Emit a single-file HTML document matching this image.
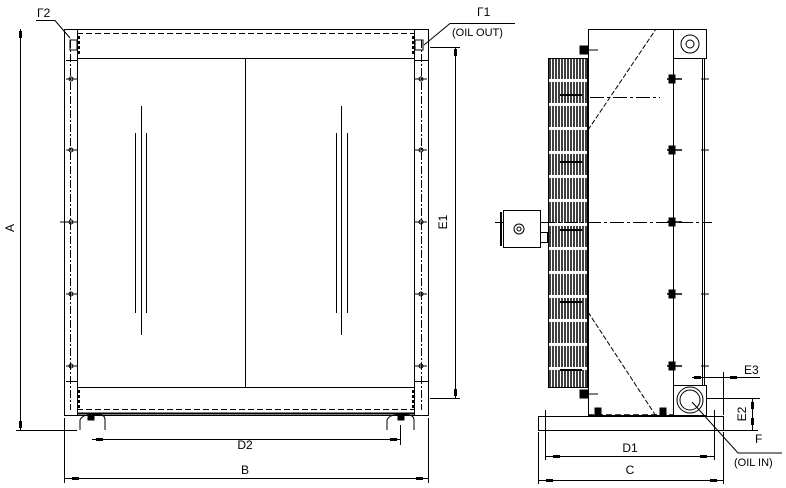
<!DOCTYPE html>
<html><head><meta charset="utf-8"><style>
html,body{margin:0;padding:0;background:#fff;}
svg{display:block;}
text{font-family:"Liberation Sans",sans-serif;fill:#000;}
</style></head><body>
<svg width="786" height="488" viewBox="0 0 786 488" xmlns="http://www.w3.org/2000/svg">
<g stroke="#000" fill="none" stroke-width="1">
<!-- FRONT VIEW -->
<rect x="64.5" y="29.5" width="364" height="386"/>
<line x1="77.5" y1="29" x2="77.5" y2="416"/>
<line x1="414.5" y1="29" x2="414.5" y2="416"/>
<line x1="77" y1="33.5" x2="414" y2="33.5" stroke-dasharray="6,3"/>
<line x1="77" y1="58.5" x2="414" y2="58.5"/>
<line x1="77" y1="387.5" x2="414" y2="387.5"/>
<line x1="77" y1="409.5" x2="414" y2="409.5" stroke-dasharray="6,3"/>
<line x1="77" y1="413.5" x2="414" y2="413.5" stroke-width="2"/>
<line x1="245.5" y1="58" x2="245.5" y2="387"/>
<line x1="70.5" y1="40" x2="70.5" y2="410" stroke-dasharray="8,2,2,2"/>
<line x1="421.5" y1="40" x2="421.5" y2="410" stroke-dasharray="8,2,2,2"/>
<line x1="66" y1="60.5" x2="77" y2="60.5"/><line x1="415" y1="60.5" x2="428" y2="60.5"/>
<line x1="66" y1="381.5" x2="77" y2="381.5"/><line x1="415" y1="381.5" x2="428" y2="381.5"/>
<rect x="70" y="40" width="7" height="10"/>
<rect x="415" y="40" width="8" height="10"/>
<line x1="79" y1="36" x2="79" y2="56" stroke-width="2" stroke-dasharray="3,2"/>
<line x1="413" y1="36" x2="413" y2="56" stroke-width="2" stroke-dasharray="3,2"/>
<line x1="79" y1="390" x2="79" y2="410" stroke-width="2" stroke-dasharray="3,2"/>
<line x1="413" y1="390" x2="413" y2="410" stroke-width="2" stroke-dasharray="3,2"/>
<g>
<circle cx="71" cy="79" r="2"/><circle cx="71" cy="150" r="2"/><circle cx="71" cy="222" r="2"/><circle cx="71" cy="294" r="2"/><circle cx="71" cy="366" r="2"/>
<circle cx="421" cy="79" r="2"/><circle cx="421" cy="150" r="2"/><circle cx="421" cy="222" r="2"/><circle cx="421" cy="294" r="2"/><circle cx="421" cy="366" r="2"/>
<line x1="66" y1="79" x2="77" y2="79"/><line x1="66" y1="150" x2="77" y2="150"/><line x1="60" y1="222" x2="77" y2="222"/><line x1="66" y1="294" x2="77" y2="294"/><line x1="66" y1="366" x2="77" y2="366"/>
<line x1="415" y1="79" x2="427" y2="79"/><line x1="415" y1="150" x2="427" y2="150"/><line x1="415" y1="222" x2="427" y2="222"/><line x1="415" y1="294" x2="427" y2="294"/><line x1="415" y1="366" x2="427" y2="366"/>
</g>
<line x1="141.5" y1="106" x2="141.5" y2="335"/><line x1="135.5" y1="133" x2="135.5" y2="313"/><line x1="146.5" y1="133" x2="146.5" y2="313"/>
<line x1="341.5" y1="106" x2="341.5" y2="335"/><line x1="336.5" y1="133" x2="336.5" y2="313"/><line x1="347.5" y1="133" x2="347.5" y2="313"/>
<!-- feet -->
<path d="M80 430 L80 420 Q82 415 90 415 L100 415 Q105 415 105 420 L105 430"/>
<path d="M387 430 L387 420 Q389 415 397 415 L407 415 Q414 415 414 420 L414 430"/>
<rect x="88" y="416" width="6" height="4" fill="#000"/><rect x="398" y="416" width="6" height="4" fill="#000"/>
<!-- dims front -->
<line x1="20.5" y1="29" x2="20.5" y2="430"/>
<rect x="19" y="31" width="3" height="7" fill="#000" stroke="none"/><rect x="19" y="421" width="3" height="7" fill="#000" stroke="none"/>
<line x1="16" y1="430.5" x2="77" y2="430.5"/>
<line x1="455.5" y1="47" x2="455.5" y2="398"/>
<rect x="454" y="49" width="3" height="7" fill="#000" stroke="none"/><rect x="454" y="389" width="3" height="7" fill="#000" stroke="none"/>
<line x1="430" y1="47.5" x2="460" y2="47.5"/><line x1="430" y1="398.5" x2="460" y2="398.5"/>
<line x1="64.5" y1="418" x2="64.5" y2="483"/><line x1="428.5" y1="418" x2="428.5" y2="483"/>
<line x1="400.5" y1="425" x2="400.5" y2="445"/>
<line x1="92" y1="439.5" x2="400" y2="439.5"/>
<rect x="96" y="438" width="7" height="3" fill="#000" stroke="none"/><rect x="390" y="438" width="7" height="3" fill="#000" stroke="none"/>
<line x1="64" y1="478.5" x2="428" y2="478.5"/>
<rect x="72" y="477" width="7" height="3" fill="#000" stroke="none"/><rect x="416" y="477" width="7" height="3" fill="#000" stroke="none"/>
<polyline points="36,20.5 55,20.5 70,38"/>
<polyline points="515,23.5 450,23.5 424,45"/>
<!-- SIDE VIEW -->
<rect x="588.5" y="29.5" width="85" height="386"/>
<line x1="588" y1="415" x2="673" y2="415" stroke-dasharray="6,3" stroke-width="1.5"/>
<line x1="588" y1="130" x2="656" y2="29" stroke-dasharray="5,2"/>
<line x1="588" y1="312" x2="656" y2="416" stroke-dasharray="5,2"/>
<path d="M673.5 58.5 L673.5 29.5 L706.5 29.5 L706.5 58.5 Z"/>
<circle cx="690" cy="44" r="9"/><circle cx="690" cy="44" r="4"/>
<line x1="673.5" y1="58" x2="673.5" y2="385"/>
<line x1="704.5" y1="58" x2="704.5" y2="385"/>
<line x1="702.5" y1="58" x2="702.5" y2="385"/>
<rect x="673.5" y="385.5" width="33" height="30"/>
<circle cx="690" cy="400" r="13"/><circle cx="690" cy="400" r="10"/>
<g stroke-width="1.5">
<line x1="667" y1="79" x2="682" y2="79"/><line x1="667" y1="150" x2="682" y2="150"/><line x1="667" y1="222" x2="682" y2="222"/><line x1="667" y1="294" x2="682" y2="294"/><line x1="667" y1="366" x2="682" y2="366"/>
</g>
<rect x="669" y="75" width="6" height="8" fill="#000"/><rect x="669" y="146" width="6" height="8" fill="#000"/><rect x="669" y="218" width="6" height="8" fill="#000"/><rect x="669" y="290" width="6" height="8" fill="#000"/><rect x="669" y="362" width="6" height="8" fill="#000"/>
<line x1="701" y1="79" x2="709" y2="79"/><line x1="701" y1="150" x2="709" y2="150"/><line x1="701" y1="294" x2="709" y2="294"/><line x1="701" y1="366" x2="709" y2="366"/>
<line x1="495" y1="222.5" x2="712" y2="222.5" stroke-dasharray="14,3,3,3"/>
<line x1="590" y1="97.5" x2="660" y2="97.5" stroke-dasharray="14,3,3,3"/>
<!-- grille -->
<rect x="548.5" y="58.5" width="39" height="329"/>
<path stroke-width="1.5" stroke-dasharray="21,3" d="M550 58V388M553 58V388M556 58V388M559 58V388M562 58V388M565 58V388M568 58V388M571 58V388M574 58V388M577 58V388M580 58V388M583 58V388M586 58V388"/>
<path stroke-width="2" d="M560 95H582M560 162H582M560 230H582M560 302H582M560 370H582"/>
<rect x="580" y="46" width="8" height="8" fill="#000"/><rect x="580" y="390" width="8" height="8" fill="#000"/>
<line x1="588" y1="50" x2="598" y2="50"/><line x1="588" y1="394" x2="598" y2="394"/>
<!-- motor -->
<rect x="503.5" y="210.5" width="37" height="37" fill="#fff"/>
<circle cx="519" cy="229" r="5"/><circle cx="519" cy="229" r="2"/>
<line x1="501" y1="212" x2="501" y2="246" stroke-width="2"/>
<rect x="540.5" y="232.5" width="7" height="10" fill="#fff"/>
<!-- base -->
<rect x="538.5" y="416.5" width="185" height="14"/>
<rect x="595" y="408" width="6" height="8" fill="#000"/><rect x="660" y="408" width="6" height="8" fill="#000"/>
<line x1="545.5" y1="410" x2="545.5" y2="460"/><line x1="714.5" y1="410" x2="714.5" y2="460"/>
<line x1="538.5" y1="432" x2="538.5" y2="484"/><line x1="723.5" y1="432" x2="723.5" y2="484"/>
<line x1="545" y1="456.5" x2="714" y2="456.5"/>
<rect x="553" y="455" width="7" height="3" fill="#000" stroke="none"/><rect x="700" y="455" width="7" height="3" fill="#000" stroke="none"/>
<line x1="538" y1="480.5" x2="723" y2="480.5"/>
<rect x="546" y="479" width="7" height="3" fill="#000" stroke="none"/><rect x="710" y="479" width="7" height="3" fill="#000" stroke="none"/>
<line x1="692" y1="377.5" x2="760" y2="377.5"/>
<rect x="694" y="376" width="7" height="3" fill="#000" stroke="none"/><rect x="730" y="376" width="7" height="3" fill="#000" stroke="none"/>
<line x1="723.5" y1="372" x2="723.5" y2="415"/>
<line x1="706" y1="398.5" x2="760" y2="398.5"/>
<line x1="752.5" y1="398" x2="752.5" y2="430"/>
<rect x="751" y="402" width="3" height="7" fill="#000" stroke="none"/><rect x="751" y="418" width="3" height="7" fill="#000" stroke="none"/>
<line x1="724" y1="430.5" x2="758" y2="430.5"/>
<polyline points="692,402 738,453 782,453"/>
</g>
<g font-size="12">
<text x="14" y="228" transform="rotate(-90 14 228)" text-anchor="middle">A</text>
<text x="447" y="222" transform="rotate(-90 447 222)" text-anchor="middle">E1</text>
<text x="245" y="449" text-anchor="middle">D2</text>
<text x="245" y="474" text-anchor="middle">B</text>
<text x="37" y="17">Γ2</text>
<text x="477" y="16">Γ1</text>
<text x="452" y="36" font-size="11">(OIL OUT)</text>
<text x="630" y="452" text-anchor="middle">D1</text>
<text x="630" y="474" text-anchor="middle">C</text>
<text x="744" y="374">E3</text>
<text x="746" y="414" transform="rotate(-90 746 414)" text-anchor="middle">E2</text>
<text x="755" y="443">F</text>
<text x="734" y="466" font-size="11">(OIL IN)</text>
</g>
</svg>
</body></html>
